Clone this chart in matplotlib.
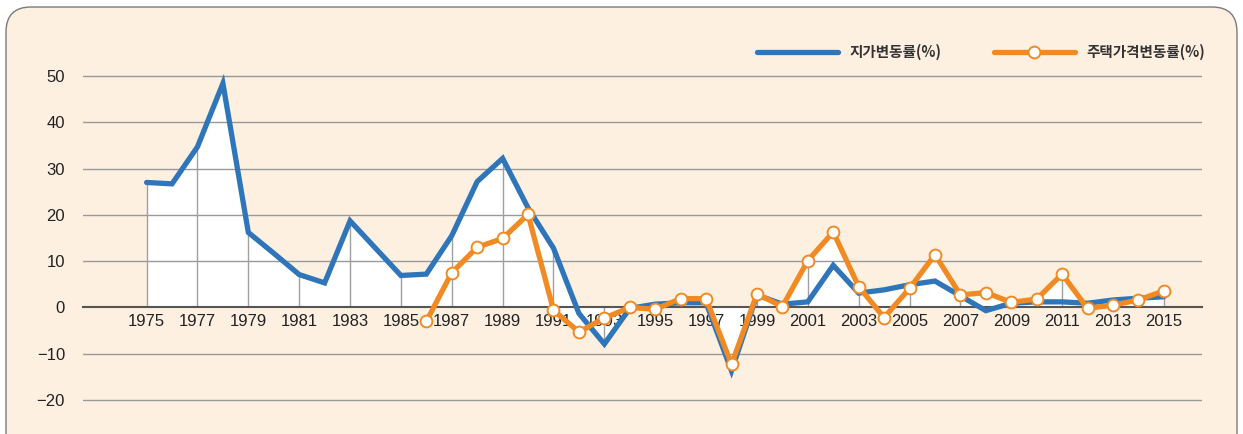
import numpy as np
import matplotlib.pyplot as plt
from matplotlib.patches import FancyBboxPatch

# 지가변동률 (land price change rate), 1975-2015
land_years = list(range(1975, 2016))
land_rate = [27.0, 26.7, 34.7, 48.4, 16.2, 11.7, 7.1, 5.3, 18.7, 12.8,
             6.9, 7.2, 15.5, 27.2, 32.2, 21.5, 12.8, -1.3, -7.9, -0.2,
             0.7, 1.0, 1.0, -13.7, 2.7, 0.7, 1.2, 9.1, 3.1, 3.8,
             4.9, 5.7, 2.5, -0.7, 0.9, 1.2, 1.2, 0.9, 1.6, 2.0, 2.3]

# 주택가격변동률 (housing price change rate), 1986-2015
house_years = list(range(1986, 2016))
house_rate = [-3.0, 7.5, 13.0, 14.9, 20.1, -0.6, -5.3, -2.3, 0.0, -0.4,
              1.9, 1.9, -12.3, 2.9, 0.2, 10.1, 16.3, 4.5, -2.2, 4.1,
              11.4, 2.7, 3.2, 1.1, 1.8, 7.2, -0.2, 0.5, 1.6, 3.6]

tick_years = list(range(1975, 2016, 2))
y_ticks = [-20, -10, 0, 10, 20, 30, 40, 50]

BLUE = '#2E75B9'
ORANGE = '#F28A24'
BG = '#FDF0E1'

plt.rcParams['font.family'] = ['Liberation Sans', 'DejaVu Sans']

fig = plt.figure(figsize=(12.43, 4.34), dpi=100)
fig.patch.set_facecolor('white')

# rounded beige panel behind everything
panel = FancyBboxPatch((0.06, -0.4), 12.31, 4.67,
                       boxstyle='round,pad=0,rounding_size=0.25',
                       transform=fig.dpi_scale_trans,
                       facecolor=BG, edgecolor='#7a7a7a', linewidth=1.0,
                       zorder=-10)
fig.add_artist(panel)

ax = fig.add_axes([0.0668, 0.0677, 0.9002, 0.7678])
ax.set_facecolor('none')
ax.set_zorder(1)
ax.set_xlim(1972.5, 2016.5)
ax.set_ylim(-21, 51)

# white area under the curves
ax.fill_between(land_years, 0, land_rate, color='white', lw=0, zorder=1)
ax.fill_between(house_years, 0, house_rate, color='white', lw=0, zorder=1)

# horizontal grid
for v in y_ticks:
    if v != 0:
        ax.axhline(v, color='#999999', lw=1.0, zorder=1.6)

# vertical drop lines at labelled years
land_map = dict(zip(land_years, land_rate))
house_map = dict(zip(house_years, house_rate))
for yr in tick_years:
    vals = [0, land_map[yr]]
    if yr in house_map:
        vals.append(house_map[yr])
    ax.vlines(yr, min(vals), max(vals), color='#a0a0a0', lw=1.0, zorder=1.6)

ax.plot(land_years, land_rate, color=BLUE, lw=3.8, solid_joinstyle='miter',
        solid_capstyle='round', zorder=4, label='지가변동률(%)')
ax.plot(house_years, house_rate, color=ORANGE, lw=3.8, marker='o', ms=8.5,
        mfc='white', mec=ORANGE, mew=1.4, solid_capstyle='round', zorder=5,
        label='주택가격변동률(%)')

for s in ['top', 'right', 'left']:
    ax.spines[s].set_visible(False)
ax.spines['bottom'].set_position(('data', 0))
ax.spines['bottom'].set_color('#555555')
ax.spines['bottom'].set_linewidth(1.5)
ax.spines['bottom'].set_zorder(2)

ax.set_xticks(tick_years)
ax.set_xticklabels([str(y) for y in tick_years])
ax.set_yticks(y_ticks)
ax.set_yticklabels([str(v).replace('-', '\u2212') for v in y_ticks])
ax.tick_params(axis='both', length=0, labelsize=12, colors='#222222')
ax.tick_params(axis='x', pad=5)
ax.tick_params(axis='y', pad=13)

leg = ax.legend(loc='center right', bbox_to_anchor=(1205 / 1243, (434 - 52) / 434),
                bbox_transform=fig.transFigure, ncol=2, frameon=False,
                handlelength=5.6, handletextpad=0.75, columnspacing=3.6,
                borderpad=0, borderaxespad=0, numpoints=1,
                prop={'family': ['Noto Sans CJK KR', 'DejaVu Sans'],
                      'size': 10.5, 'weight': 'bold'})
for t in leg.get_texts():
    t.set_color('#333333')

fig.savefig('out.png', dpi=100, facecolor=fig.get_facecolor())
